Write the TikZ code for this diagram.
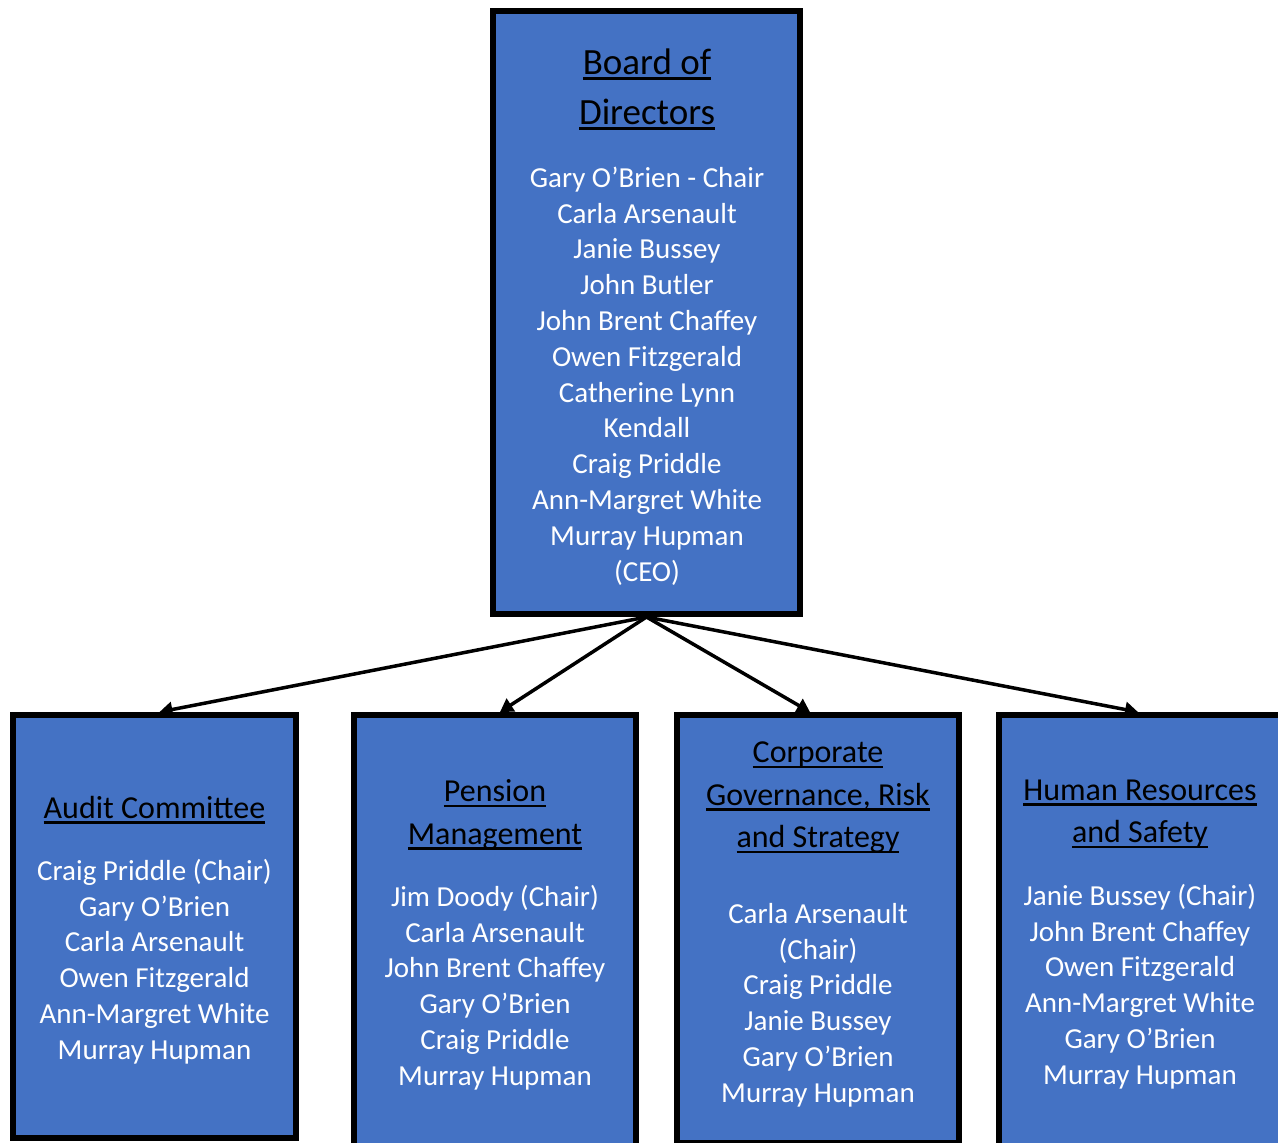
\documentclass[tikz,border=0pt]{standalone}
\usepackage{fontspec}
\setmainfont{Carlito}
\usetikzlibrary{arrows.meta}
\definecolor{officeblue}{HTML}{4472C4}
% underline at a fixed depth below the baseline
\newcommand{\ulwords}[1]{\setbox0\hbox{#1}\rlap{\rule[-5.5pt]{\wd0}{2.5pt}}\box0}
\tikzset{
  panel/.style={draw=black,line width=6pt,fill=officeblue,inner sep=0pt,minimum width=282pt},
  heading/.style={align=center,text=black,font=\fontsize{32}{42.5}\selectfont},
  members/.style={align=center,text=white,font=\fontsize{29}{35.8}\selectfont},
  link/.style={line width=3.5pt,-{Triangle[width=15pt,length=13pt]}}
}
\begin{document}
\begin{tikzpicture}[x=1pt,y=-1pt]
\path[use as bounding box] (0,0) rectangle (1278,1143);
% boxes
\node[panel,minimum width=307pt,minimum height=603pt] (board) at (646.5,312.5) {};
\node[panel,minimum width=283pt,minimum height=423pt] (audit) at (154.5,926.5) {};
\node[panel,minimum height=442pt] (pension) at (495,936) {};
\node[panel,minimum height=428pt] (corp) at (818,929) {};
\node[panel,minimum height=442pt] (hr) at (1140,936) {};
% arrows
\draw[link] (board.south) -- ([xshift=5pt]audit.north);
\draw[link] (board.south) -- ([xshift=5pt]pension.north);
\draw[link] (board.south) -- ([xshift=-8pt]corp.north);
\draw[link] (board.south) -- ([xshift=-2pt]hr.north);
% board
\node[heading,font=\fontsize{37}{50}\selectfont] (board title) at (647,89) {\ulwords{Board of}\\\ulwords{Directors}};
\node[members] (board names) at (647,376) {Gary O’Brien - Chair\\Carla Arsenault\\Janie Bussey\\John Butler\\John Brent Chaffey\\Owen Fitzgerald\\Catherine Lynn\\Kendall\\Craig Priddle\\Ann-Margret White\\Murray Hupman\\(CEO)};
% committees
\node[heading] (audit title) at (154.5,810) {\ulwords{Audit Committee}};
\node[members] (audit names) at (154.5,961.5) {Craig Priddle (Chair)\\Gary O’Brien\\Carla Arsenault\\Owen Fitzgerald\\Ann-Margret White\\Murray Hupman};
\node[heading] (pension title) at (495,814.5) {\ulwords{Pension}\\\ulwords{Management}};
\node[members] (pension names) at (495,987.5) {Jim Doody (Chair)\\Carla Arsenault\\John Brent Chaffey\\Gary O’Brien\\Craig Priddle\\Murray Hupman};
\node[heading] (corp title) at (818,797.5) {\ulwords{Corporate}\\\ulwords{Governance, Risk}\\\ulwords{and Strategy}};
\node[members] (corp names) at (818,1005) {Carla Arsenault\\(Chair)\\Craig Priddle\\Janie Bussey\\Gary O’Brien\\Murray Hupman};
\node[heading] (hr title) at (1140,814) {\ulwords{Human Resources}\\\ulwords{and Safety}};
\node[members] (hr names) at (1140,986.5) {Janie Bussey (Chair)\\John Brent Chaffey\\Owen Fitzgerald\\Ann-Margret White\\Gary O’Brien\\Murray Hupman};
\end{tikzpicture}
\end{document}
